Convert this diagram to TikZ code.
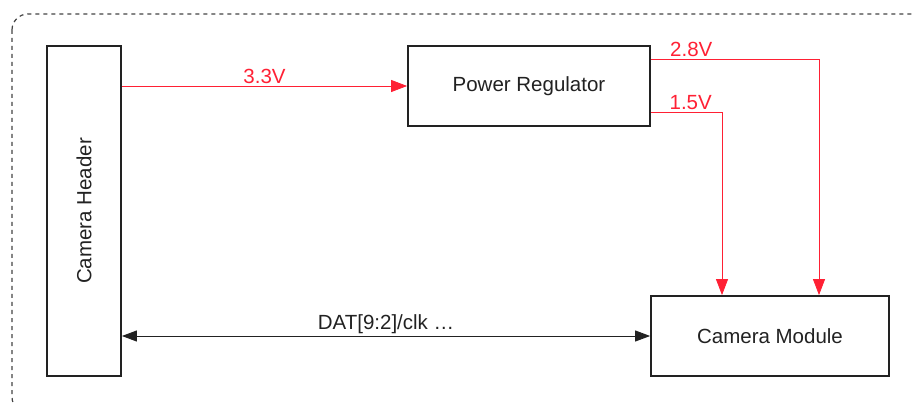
\documentclass[tikz,border=0pt]{standalone}
\usepackage{fontspec}
\setmainfont{Liberation Sans}
\usepackage{xcolor}
\usetikzlibrary{positioning,calc,arrows.meta}
\definecolor{pwrred}{RGB}{255,32,52}
\definecolor{inkgray}{RGB}{34,34,34}

\begin{document}
\begin{tikzpicture}[x=1pt, y=-1pt,
    block/.style={draw=inkgray, line width=1.8pt, fill=white, text=inkgray, font=\fontsize{20.5}{24}\selectfont},
    pwr/.style={pwrred, line width=0.8pt, -{Triangle[length=16pt, width=12pt]}},
    bus/.style={inkgray, line width=0.9pt, {Triangle[length=15pt, width=11pt]}-{Triangle[length=15pt, width=11pt]}},
    lbl/.style={font=\fontsize{20.5}{24}\selectfont, inner sep=2pt}]
    \useasboundingbox (0,0) rectangle (915,403);
    % outer board outline, runs off the page
    \draw[inkgray!85, line width=1.2pt, dash pattern=on 4pt off 4pt, rounded corners=16pt] (12,14) rectangle (945,413);
    % blocks
    \node[block, rotate=90, minimum width=330pt, minimum height=74pt] (header) at (84,211) {Camera Header};
    \node[block, minimum width=242pt, minimum height=80pt] (reg) at (529,86) {Power Regulator};
    \node[block, minimum width=238pt, minimum height=80pt] (mod) at (770,336) {Camera Module};
    % supply rails
    \draw[pwr] (header.south |- reg.west) -- (reg.west) node[lbl, midway, above, text=pwrred] (v33) {3.3V};
    \draw[pwr] ([yshift=27pt]reg.east) -| ([xshift=49pt]mod.north) node[lbl, pos=0.12, above, text=pwrred] (v28) {2.8V};
    \draw[pwr] ([yshift=-26pt]reg.east) -| ([xshift=-48pt]mod.north) node[lbl, pos=0.28, above, text=pwrred] (v15) {1.5V};
    % data bus
    \draw[bus] (header.south |- mod.west) -- (mod.west) node[lbl, midway, above, text=inkgray] (dat) {DAT[9:2]/clk \dots};
\end{tikzpicture}
\end{document}
